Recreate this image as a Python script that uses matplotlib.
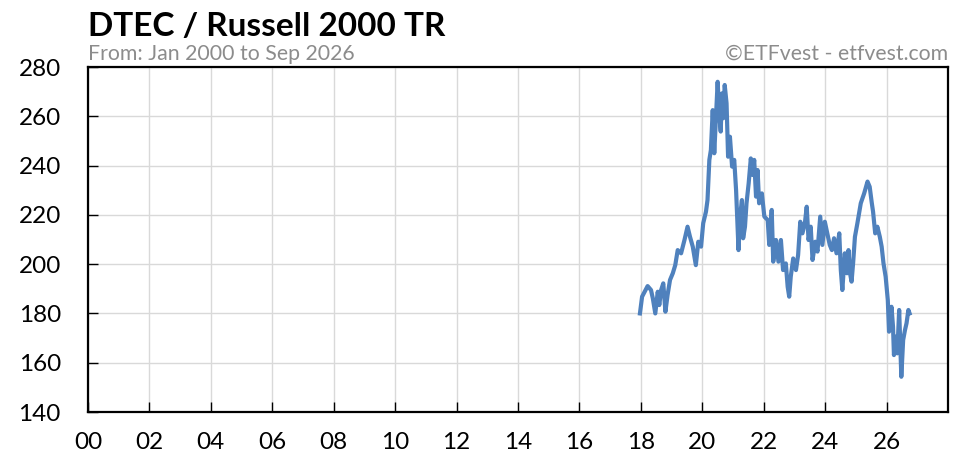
import matplotlib
matplotlib.use("Agg")
import matplotlib.pyplot as plt

plt.rcParams['font.family'] = ['Lato', 'DejaVu Sans']

# ratio DTEC / Russell 2000 TR
years = [2017.97, 2018.04, 2018.22, 2018.33, 2018.39, 2018.47, 2018.55, 2018.60, 2018.66, 2018.73,
         2018.80, 2018.87, 2018.95, 2019.04, 2019.12, 2019.20, 2019.31, 2019.42, 2019.52, 2019.60,
         2019.69, 2019.79, 2019.87, 2019.96, 2020.03, 2020.12, 2020.17, 2020.23, 2020.28, 2020.34,
         2020.39, 2020.45, 2020.50, 2020.55, 2020.60, 2020.64, 2020.68, 2020.73, 2020.79, 2020.84,
         2020.90, 2020.97, 2021.04, 2021.10, 2021.15, 2021.18, 2021.23, 2021.29, 2021.33, 2021.39,
         2021.44, 2021.51, 2021.58, 2021.64, 2021.69, 2021.75, 2021.80, 2021.85, 2021.94, 2022.02,
         2022.13, 2022.18, 2022.26, 2022.31, 2022.40, 2022.48, 2022.56, 2022.63, 2022.72, 2022.78,
         2022.83, 2022.88, 2022.96, 2023.05, 2023.12, 2023.19, 2023.26, 2023.34, 2023.40, 2023.46,
         2023.53, 2023.59, 2023.68, 2023.75, 2023.84, 2023.91, 2023.99, 2024.08, 2024.15, 2024.22,
         2024.29, 2024.37, 2024.46, 2024.51, 2024.56, 2024.64, 2024.71, 2024.76, 2024.81, 2024.86,
         2024.91, 2024.97, 2025.05, 2025.16, 2025.27, 2025.38, 2025.45, 2025.52, 2025.56, 2025.63,
         2025.70, 2025.78, 2025.84, 2025.90, 2025.97, 2026.04, 2026.08, 2026.16, 2026.21, 2026.24,
         2026.30, 2026.35, 2026.41, 2026.46, 2026.48, 2026.54, 2026.60, 2026.65, 2026.71, 2026.75]
ratio = [180.0, 186.8, 191.1, 189.5, 186.1, 180.0, 188.8, 183.4, 189.5, 192.2,
         180.7, 187.5, 193.6, 196.3, 199.6, 205.7, 204.4, 209.8, 215.2, 211.1,
         207.1, 199.6, 209.1, 207.1, 216.6, 221.3, 226.0, 242.3, 246.3, 262.5,
         245.0, 261.2, 274.0, 261.2, 253.8, 269.3, 259.2, 272.7, 265.3, 243.6,
         251.7, 239.6, 242.3, 230.1, 215.2, 205.7, 219.3, 226.0, 210.5, 215.2,
         224.7, 232.8, 242.9, 236.2, 242.3, 227.4, 238.2, 224.7, 228.7, 219.3,
         217.9, 207.8, 222.0, 201.0, 209.8, 201.0, 209.8, 197.6, 200.3, 190.8,
         186.8, 194.9, 202.3, 197.6, 203.7, 217.2, 212.5, 216.6, 223.3, 209.8,
         215.2, 201.7, 209.1, 205.1, 219.3, 207.8, 217.2, 211.8, 207.8, 205.7,
         210.5, 204.4, 212.5, 197.6, 189.5, 204.4, 196.3, 205.7, 196.3, 192.9,
         200.3, 211.1, 216.6, 224.7, 228.7, 233.5, 231.4, 224.7, 221.3, 212.5,
         215.2, 211.1, 207.1, 200.3, 194.9, 185.4, 172.6, 182.7, 174.6, 163.1,
         170.6, 163.8, 181.4, 162.4, 154.3, 169.2, 173.3, 176.0, 181.4, 180.0]

xticks = list(range(2000, 2027, 2))
xlabels = ['%02d' % (y % 100) for y in xticks]
yticks = list(range(140, 281, 20))

fig = plt.figure(figsize=(9.65, 4.65), dpi=100)
ax = fig.add_axes([88/965, 53/465, 860/965, 345/465])

ax.plot(years, ratio, color='#4F81BD', lw=3, solid_joinstyle='round')

ax.set_xlim(2000, 2028)
ax.set_ylim(140, 280)
ax.set_xticks(xticks)
ax.set_xticklabels(xlabels)
ax.set_yticks(yticks)
ax.grid(True, color='#d9d9d9', lw=1)
ax.set_axisbelow(True)
for s in ax.spines.values():
    s.set_linewidth(1.6)
    s.set_color('black')
ax.tick_params(axis='both', direction='in', length=7, width=1, labelsize=17.5, colors='black')
ax.tick_params(axis='x', pad=14.5)
ax.tick_params(axis='y', pad=19.5)

fig.text(88/965, 1 - 36/465, 'DTEC / Russell 2000 TR', fontsize=24, fontweight='bold', ha='left', va='baseline')
fig.text(88/965, 1 - 60/465, 'From: Jan 2000 to Sep 2026', fontsize=15.3, color='#8c8c8c', ha='left', va='baseline')
fig.text(948/965, 1 - 60/465, '©ETFvest - etfvest.com', fontsize=15.3, color='#8c8c8c', ha='right', va='baseline')

fig.savefig('out.png', dpi=100)
